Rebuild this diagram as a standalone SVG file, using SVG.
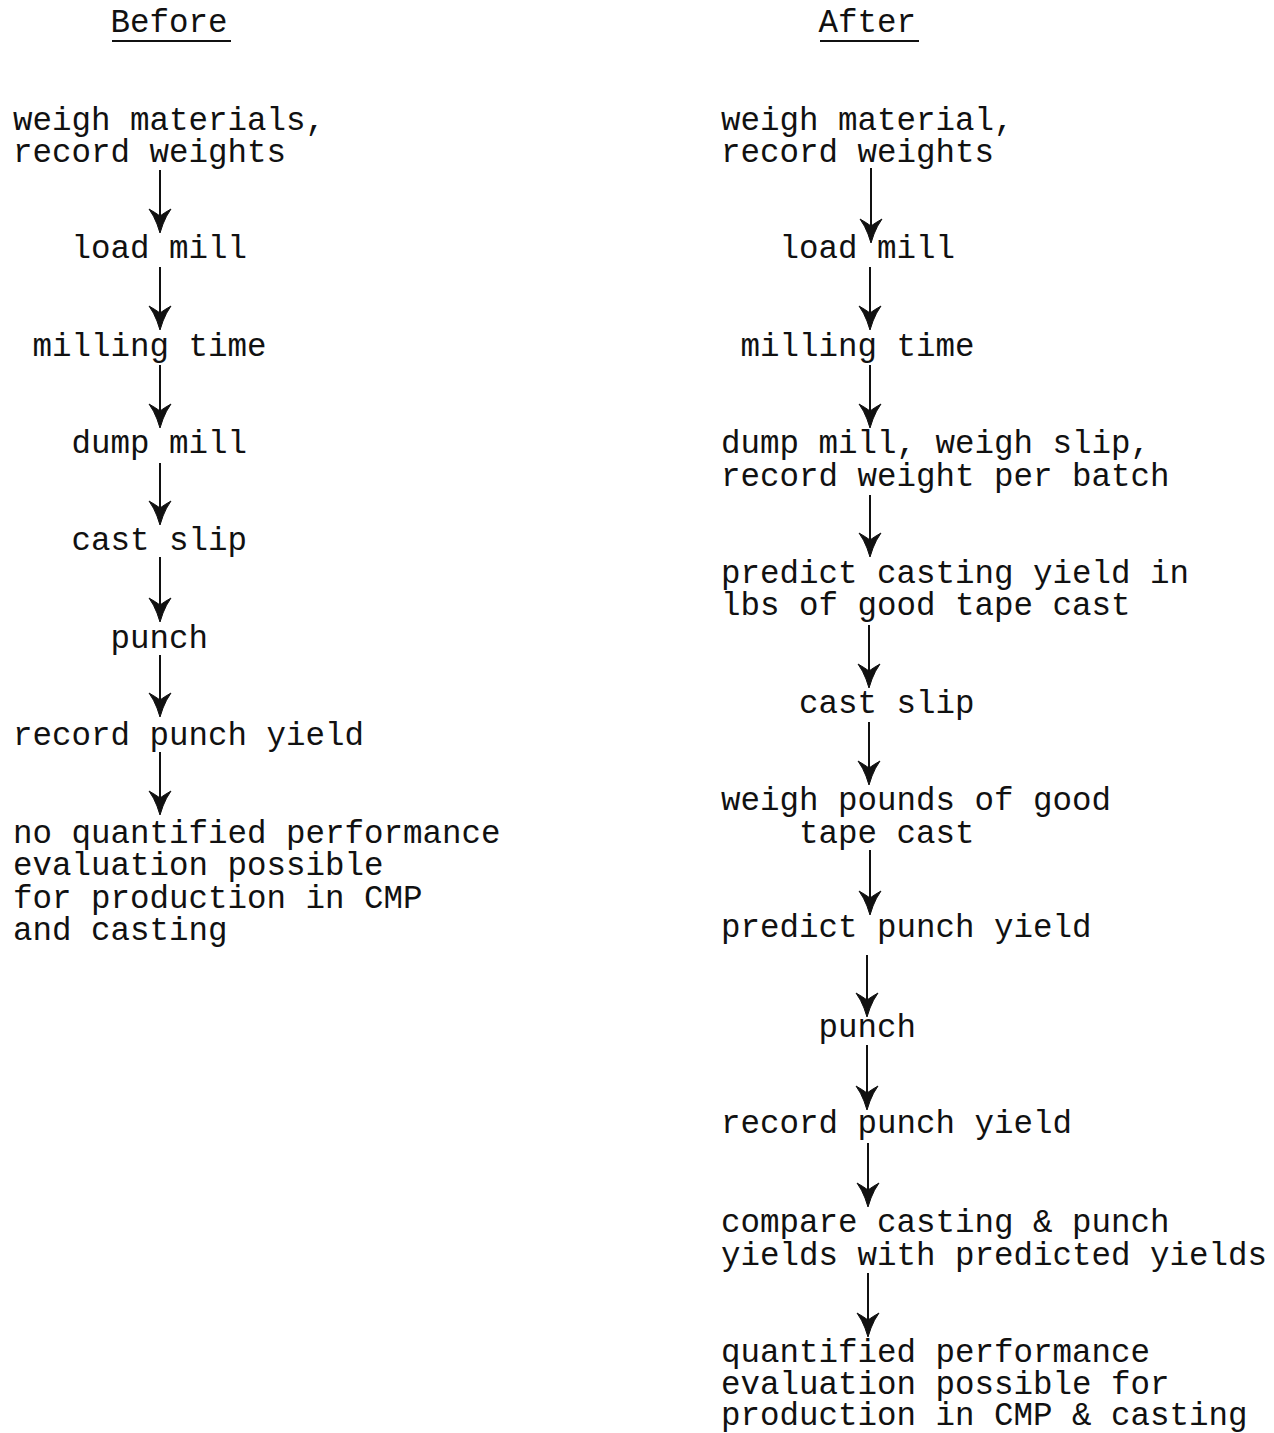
<svg xmlns="http://www.w3.org/2000/svg" width="1274" height="1433" viewBox="0 0 1274 1433">
<defs>
<style>
text{font-family:"Liberation Mono","Courier New",monospace;font-size:32.5px;fill:#111;}
.ln{stroke:#111;stroke-width:2;fill:none;}
.hd{fill:#111;stroke:#111;stroke-width:1;stroke-linejoin:round;}
.ul{stroke:#111;stroke-width:2;}
</style>
<path id="ah" d="M0,0 L-3,-9 Q-6,-17 -11,-24 Q-4,-20 0,-17 Q4,-20 11,-24 Q6,-17 3,-9 Z"/>
</defs>
<rect width="1274" height="1433" fill="#fff"/>

<g id="headers">
<text x="110.5" y="32">Before</text>
<line class="ul" x1="112" y1="41" x2="231" y2="41"/>
<text x="818.5" y="32">After</text>
<line class="ul" x1="820" y1="41" x2="919" y2="41"/>
</g>

<g id="before">
<g id="b1"><text x="13" y="130">weigh materials,</text><text x="13" y="162">record weights</text></g>
<g id="b2"><text x="71.5" y="258">load mill</text></g>
<g id="b3"><text x="32.5" y="356">milling time</text></g>
<g id="b4"><text x="71.5" y="453">dump mill</text></g>
<g id="b5"><text x="71.5" y="550">cast slip</text></g>
<g id="b6"><text x="110.5" y="648">punch</text></g>
<g id="b7"><text x="13" y="745">record punch yield</text></g>
<g id="b8"><text x="13" y="843">no quantified performance</text><text x="13" y="875">evaluation possible</text><text x="13" y="908">for production in CMP</text><text x="13" y="940">and casting</text></g>
</g>

<g id="after">
<g id="a1"><text x="721" y="130">weigh material,</text><text x="721" y="162">record weights</text></g>
<g id="a2"><text x="779.5" y="258">load mill</text></g>
<g id="a3"><text x="740.5" y="356">milling time</text></g>
<g id="a4"><text x="721" y="453">dump mill, weigh slip,</text><text x="721" y="486">record weight per batch</text></g>
<g id="a5"><text x="721" y="583">predict casting yield in</text><text x="721" y="615">lbs of good tape cast</text></g>
<g id="a6"><text x="799" y="713">cast slip</text></g>
<g id="a7"><text x="721" y="810">weigh pounds of good</text><text x="799" y="843">tape cast</text></g>
<g id="a8"><text x="721" y="937">predict punch yield</text></g>
<g id="a9"><text x="818.5" y="1037">punch</text></g>
<g id="a10"><text x="721" y="1133">record punch yield</text></g>
<g id="a11"><text x="721" y="1232">compare casting &amp; punch</text><text x="721" y="1265">yields with predicted yields</text></g>
<g id="a12"><text x="721" y="1362">quantified performance</text><text x="721" y="1394">evaluation possible for</text><text x="721" y="1425">production in CMP &amp; casting</text></g>
</g>

<g id="connectors">
<line class="ln" x1="160" y1="170" x2="160" y2="225"/><use href="#ah" class="hd" x="160" y="233"/>
<line class="ln" x1="160" y1="267" x2="160" y2="322"/><use href="#ah" class="hd" x="160" y="330"/>
<line class="ln" x1="160" y1="365" x2="160" y2="420"/><use href="#ah" class="hd" x="160" y="428"/>
<line class="ln" x1="160" y1="463" x2="160" y2="517"/><use href="#ah" class="hd" x="160" y="525"/>
<line class="ln" x1="160" y1="557" x2="160" y2="614"/><use href="#ah" class="hd" x="160" y="622"/>
<line class="ln" x1="160" y1="655" x2="160" y2="709"/><use href="#ah" class="hd" x="160" y="717"/>
<line class="ln" x1="160" y1="752" x2="160" y2="807"/><use href="#ah" class="hd" x="160" y="815"/>

<line class="ln" x1="871" y1="168" x2="871" y2="235"/><use href="#ah" class="hd" x="871" y="243"/>
<line class="ln" x1="870" y1="267" x2="870" y2="322"/><use href="#ah" class="hd" x="870" y="330"/>
<line class="ln" x1="870" y1="365" x2="870" y2="420"/><use href="#ah" class="hd" x="870" y="428"/>
<line class="ln" x1="870" y1="495" x2="870" y2="549"/><use href="#ah" class="hd" x="870" y="557"/>
<line class="ln" x1="869" y1="625" x2="869" y2="680"/><use href="#ah" class="hd" x="869" y="688"/>
<line class="ln" x1="869" y1="722" x2="869" y2="777"/><use href="#ah" class="hd" x="869" y="785"/>
<line class="ln" x1="870" y1="850" x2="870" y2="907"/><use href="#ah" class="hd" x="870" y="915"/>
<line class="ln" x1="867" y1="955" x2="867" y2="1009"/><use href="#ah" class="hd" x="867" y="1017"/>
<line class="ln" x1="867" y1="1045" x2="867" y2="1102"/><use href="#ah" class="hd" x="867" y="1110"/>
<line class="ln" x1="868" y1="1143" x2="868" y2="1199"/><use href="#ah" class="hd" x="868" y="1207"/>
<line class="ln" x1="868" y1="1273" x2="868" y2="1329"/><use href="#ah" class="hd" x="868" y="1337"/>
</g>
</svg>
